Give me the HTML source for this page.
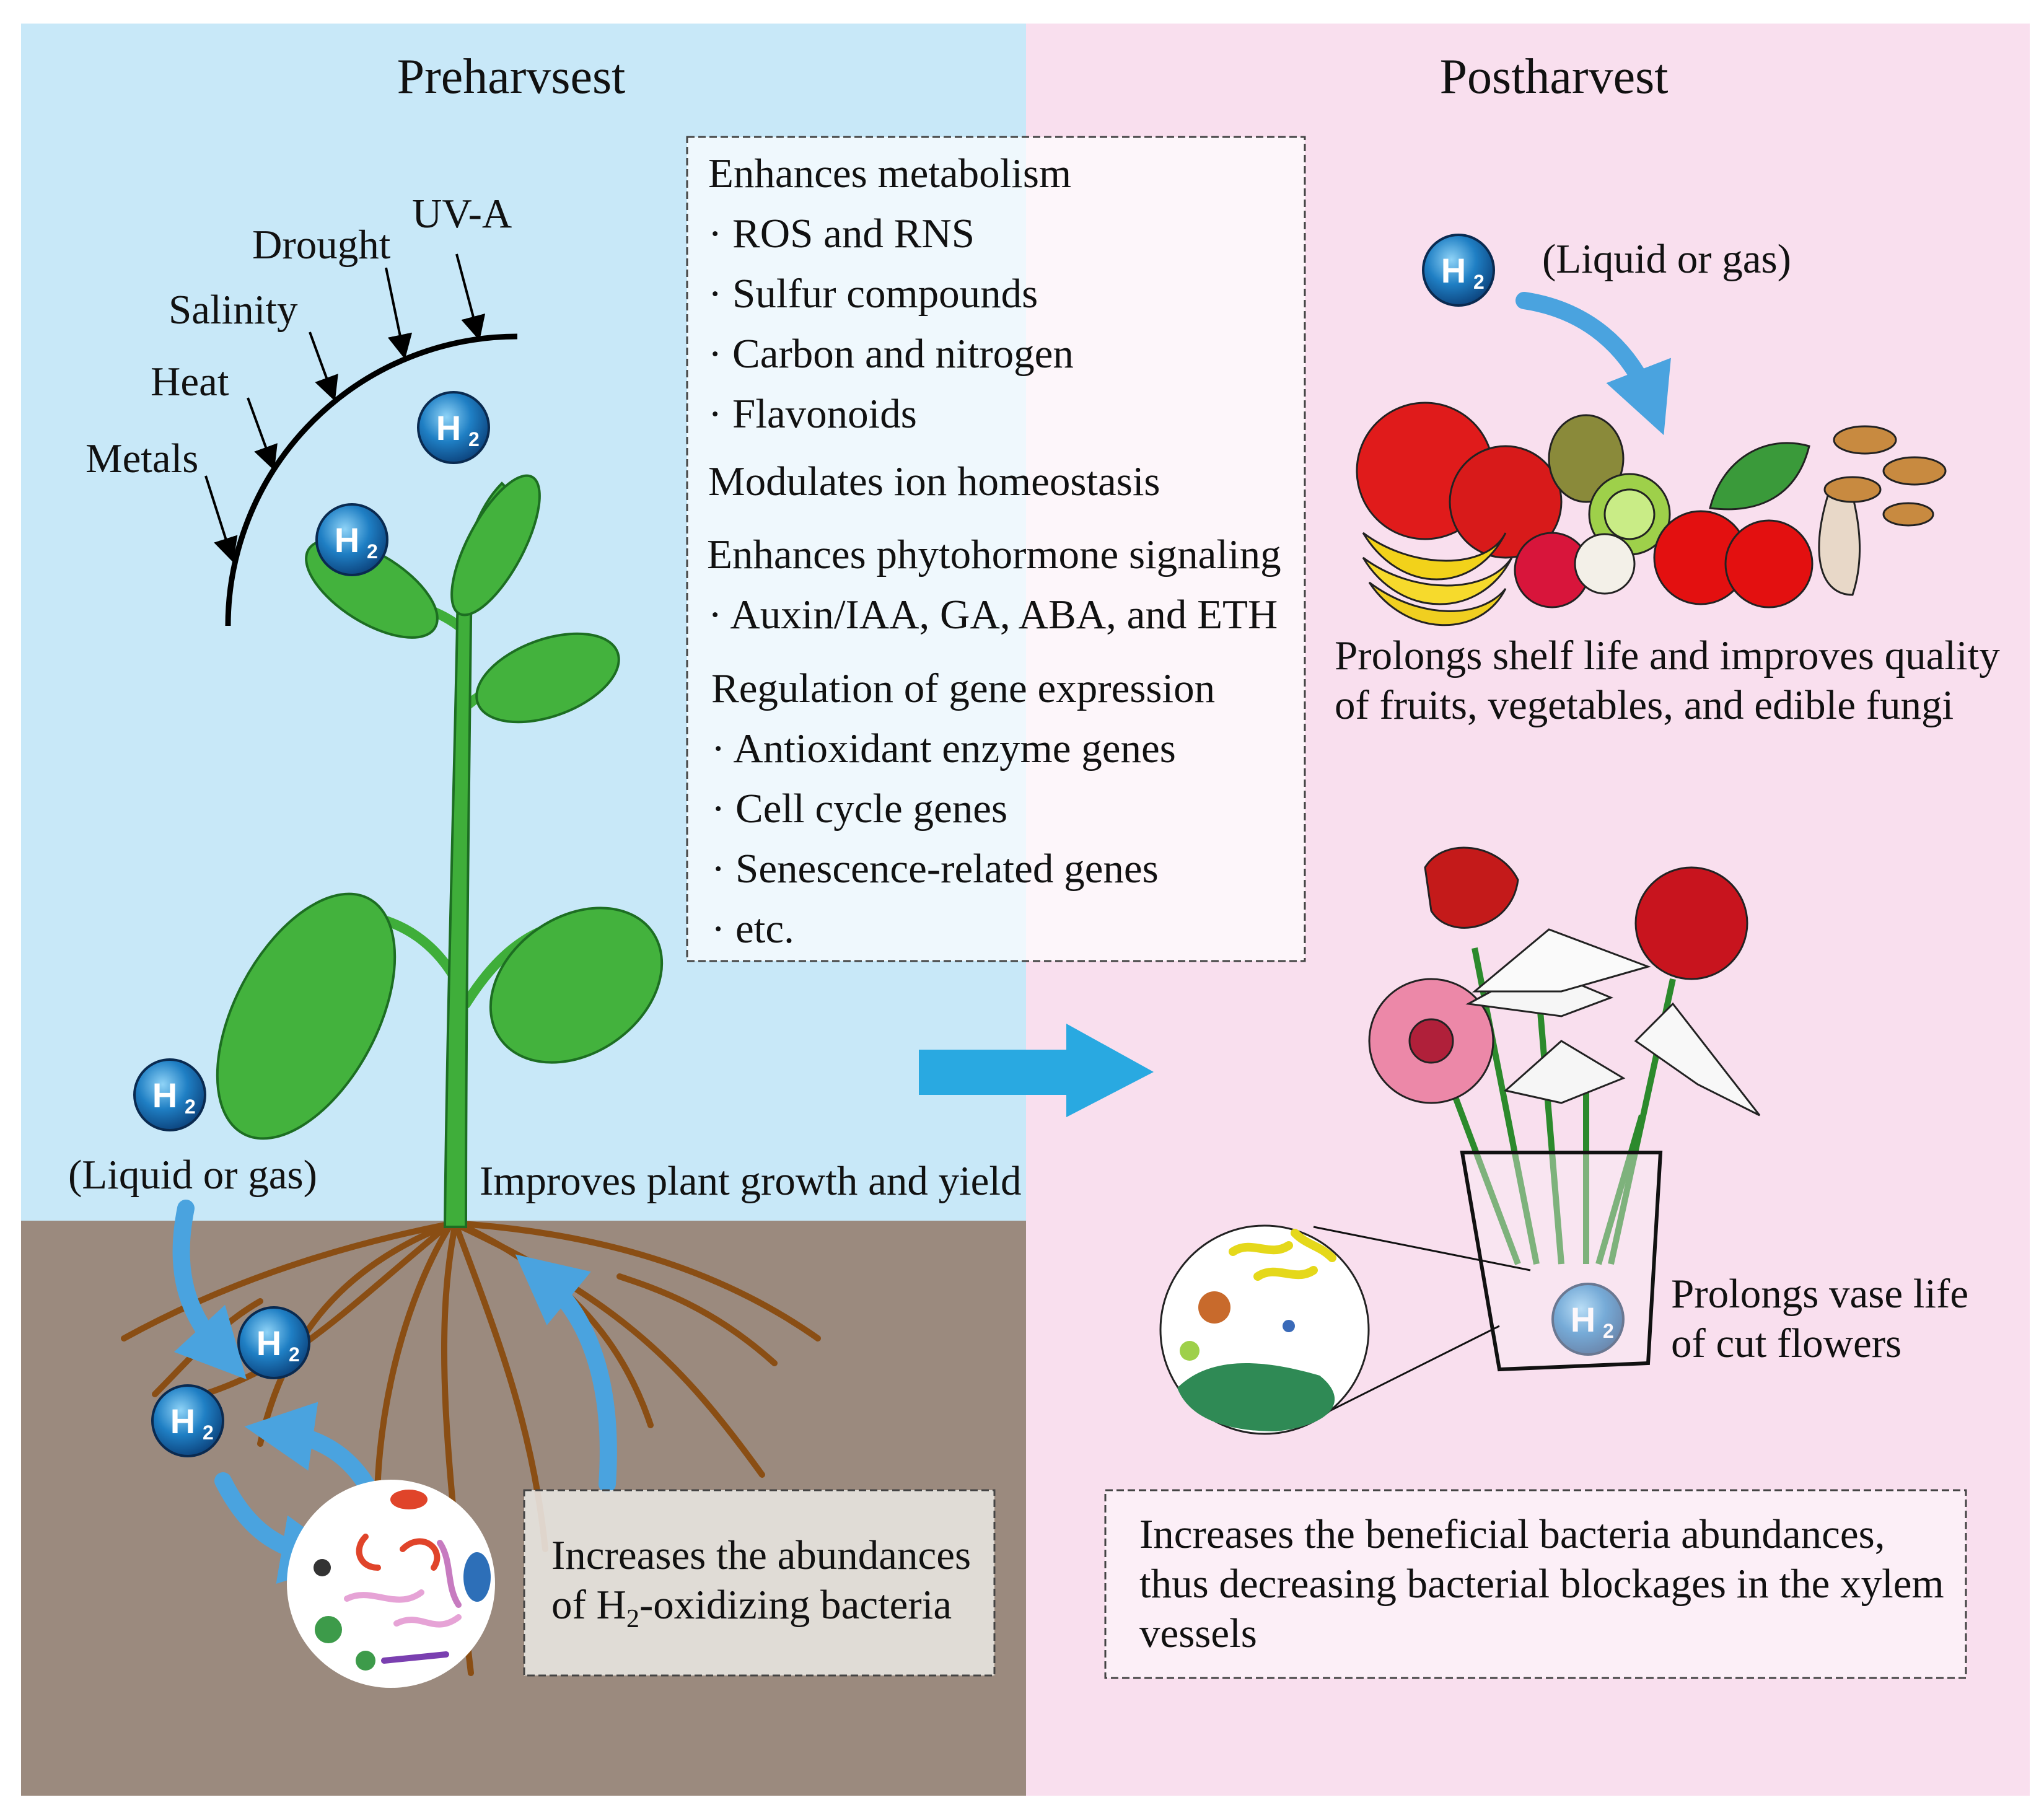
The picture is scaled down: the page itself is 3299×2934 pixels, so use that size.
<!DOCTYPE html>
<html><head><meta charset="utf-8"><style>
html,body{margin:0;padding:0;background:#fff}
svg{display:block}
text{font-family:"Liberation Serif",serif;fill:#111}
</style></head><body>
<svg width="3299" height="2934" viewBox="0 0 3299 2934" xmlns="http://www.w3.org/2000/svg">
<defs>
<radialGradient id="h2" cx="0.4" cy="0.35" r="0.7">
<stop offset="0" stop-color="#8fd3f7"/><stop offset="0.5" stop-color="#1f7fc4"/><stop offset="1" stop-color="#0b3f78"/>
</radialGradient>
<marker id="ah" markerWidth="10" markerHeight="10" refX="8" refY="5" orient="auto" markerUnits="strokeWidth"><path d="M0,0 L10,5 L0,10 z" fill="#000"/></marker>
<marker id="bh" markerWidth="4" markerHeight="4" refX="2" refY="2" orient="auto" markerUnits="strokeWidth"><path d="M0,0 L4,2 L0,4 z" fill="#4aa3df"/></marker>
<g id="H2"><circle r="57" fill="url(#h2)" stroke="#0a2a50" stroke-width="4"/><text x="-8" y="20" font-weight="bold" font-size="56" text-anchor="middle" style="fill:#fff;font-family:'Liberation Sans',sans-serif">H</text><text x="24" y="30" font-weight="bold" font-size="32" style="fill:#fff;font-family:'Liberation Sans',sans-serif">2</text></g>
</defs>
<rect x="34" y="38" width="1622" height="1932" fill="#c8e8f8"/>
<rect x="34" y="1970" width="1622" height="928" fill="#9b8a7e"/>
<rect x="1656" y="38" width="1620" height="2860" fill="#f9dfee"/>

<text x="825" y="150" font-size="80" text-anchor="middle">Preharvsest</text>
<text x="2508" y="150" font-size="80" text-anchor="middle">Postharvest</text>

<rect x="1109" y="221" width="997" height="1330" fill="#ffffff" fill-opacity="0.7" stroke="#444" stroke-width="3" stroke-dasharray="12,6"/>
<g font-size="67">
<text x="1143" y="302">Enhances metabolism</text>
<text x="1143" y="399">· ROS and RNS</text>
<text x="1143" y="496">· Sulfur compounds</text>
<text x="1143" y="593">· Carbon and nitrogen</text>
<text x="1143" y="690">· Flavonoids</text>
<text x="1143" y="799">Modulates ion homeostasis</text>
<text x="1141" y="917">Enhances phytohormone signaling</text>
<text x="1143" y="1014">· Auxin/IAA, GA, ABA, and ETH</text>
<text x="1148" y="1133">Regulation of gene expression</text>
<text x="1148" y="1230">· Antioxidant enzyme genes</text>
<text x="1148" y="1327">· Cell cycle genes</text>
<text x="1148" y="1424">· Senescence-related genes</text>
<text x="1148" y="1521">· etc.</text>
</g>

<path d="M368,1010 A467,467 0 0 1 835,543" fill="none" stroke="#000" stroke-width="9"/>
<g stroke="#000" stroke-width="4" fill="none" marker-end="url(#ah)">
<line x1="332" y1="768" x2="374" y2="900"/>
<line x1="400" y1="642" x2="440" y2="752"/>
<line x1="500" y1="536" x2="538" y2="640"/>
<line x1="623" y1="432" x2="652" y2="572"/>
<line x1="737" y1="410" x2="772" y2="542"/>
</g>
<g font-size="67">
<text x="138" y="762">Metals</text>
<text x="243" y="638">Heat</text>
<text x="272" y="522">Salinity</text>
<text x="407" y="417">Drought</text>
<text x="665" y="367">UV-A</text>
</g>

<g stroke="#8a4e14" stroke-width="10" fill="none" stroke-linecap="round">
<path d="M728,1975 C600,2000 400,2050 200,2160"/>
<path d="M728,1975 C560,2040 460,2150 420,2330"/>
<path d="M728,1975 C650,2100 600,2300 610,2480"/>
<path d="M735,1975 C700,2150 720,2350 760,2700"/>
<path d="M735,1975 C800,2150 860,2300 880,2500"/>
<path d="M740,1975 C900,2050 1000,2150 1050,2300"/>
<path d="M745,1975 C950,1990 1150,2040 1320,2160"/>
<path d="M745,1980 C1000,2100 1100,2200 1230,2380"/>
<path d="M720,1980 C550,2120 480,2200 330,2250"/>
<path d="M420,2100 C350,2140 300,2200 250,2250"/>
<path d="M1000,2060 C1060,2080 1150,2110 1250,2200"/>
</g>

<g stroke="#1d6e22" stroke-width="4">
<g fill="none" stroke="#3fae3a" stroke-width="16" stroke-linecap="round">
<path d="M735,1580 C700,1520 650,1490 600,1480"/>
<path d="M752,1620 C790,1560 830,1520 880,1500"/>
<path d="M740,1010 C700,980 650,970 610,968"/>
<path d="M752,1140 C800,1100 840,1090 880,1090"/>
</g>
<path d="M718,1980 C722,1600 735,1200 738,1000 C740,900 770,820 810,780 L822,792 C790,830 760,900 760,1000 C758,1200 752,1600 752,1980 Z" fill="#3fae3a"/>
<g fill="#43b23d">
<ellipse cx="800" cy="880" rx="125" ry="45" transform="rotate(-62 800 880)"/>
<ellipse cx="600" cy="950" rx="120" ry="55" transform="rotate(32 600 950)"/>
<ellipse cx="884" cy="1094" rx="120" ry="62" transform="rotate(-20 884 1094)"/>
<ellipse cx="494" cy="1640" rx="115" ry="215" transform="rotate(28 494 1640)"/>
<ellipse cx="930" cy="1590" rx="150" ry="110" transform="rotate(-35 930 1590)"/>
</g>
</g>

<use href="#H2" x="732" y="690"/>
<use href="#H2" x="568" y="871"/>
<use href="#H2" x="274" y="1767"/>
<use href="#H2" x="442" y="2167"/>
<use href="#H2" x="303" y="2293"/>
<use href="#H2" x="2354" y="436"/>
<use href="#H2" x="2563" y="2129"/>

<g stroke="#4aa3df" stroke-width="28" fill="none" stroke-linecap="round">
<path d="M300,1950 C280,2050 300,2120 360,2185" marker-end="url(#bh)"/>
<path d="M360,2390 C400,2470 450,2500 510,2510" marker-end="url(#bh)"/>
<path d="M605,2420 C570,2350 520,2320 450,2310" marker-end="url(#bh)"/>
<path d="M980,2395 C990,2250 960,2130 875,2060" marker-end="url(#bh)"/>
<path d="M2460,485 C2560,500 2630,560 2665,650" marker-end="url(#bh)"/>
</g>
<path d="M1483,1694 L1721,1694 L1721,1652 L1862,1730 L1721,1803 L1721,1767 L1483,1767 Z" fill="#29a9e1"/>

<g font-size="67">
<text x="110" y="1918">(Liquid or gas)</text>
<text x="774" y="1928">Improves plant growth and yield</text>
</g>

<circle cx="631" cy="2556" r="168" fill="#fff"/>
<g stroke-width="10" fill="none" stroke-linecap="round">
<path d="M590,2480 C570,2500 580,2530 610,2530" stroke="#e0442a"/>
<path d="M650,2500 C680,2470 720,2500 700,2530" stroke="#e0442a"/>
<path d="M710,2490 C730,2520 720,2560 740,2590" stroke="#c77bc0"/>
<path d="M560,2580 C600,2560 640,2600 680,2570" stroke="#e6a3d6"/>
<path d="M640,2620 C680,2600 700,2640 740,2610" stroke="#e6a3d6"/>
<path d="M620,2680 L720,2670" stroke="#7a3fb0"/>
</g>
<ellipse cx="660" cy="2420" rx="30" ry="16" fill="#e0442a"/>
<ellipse cx="770" cy="2545" rx="22" ry="40" fill="#2d6fb8"/>
<circle cx="530" cy="2630" r="22" fill="#3d9b4a"/>
<circle cx="590" cy="2680" r="16" fill="#3d9b4a"/>
<circle cx="520" cy="2530" r="14" fill="#333"/>

<rect x="846" y="2405" width="759" height="299" fill="#e8e4e0" fill-opacity="0.9" stroke="#444" stroke-width="3" stroke-dasharray="12,6"/>
<g font-size="67">
<text x="890" y="2532">Increases the abundances</text>
<text x="890" y="2612">of H<tspan font-size="42" dy="14">2</tspan><tspan dy="-14">-oxidizing bacteria</tspan></text>
</g>

<g stroke="#222" stroke-width="3">
<circle cx="2300" cy="760" r="110" fill="#e01b1b"/>
<circle cx="2430" cy="810" r="90" fill="#d81a1a"/>
<ellipse cx="2560" cy="740" rx="60" ry="70" fill="#8a8a3a"/>
<circle cx="2630" cy="830" r="65" fill="#9ed04a"/>
<circle cx="2630" cy="830" r="40" fill="#c9ec86"/>
<path d="M2200,860 C2260,960 2380,960 2430,860 C2400,920 2280,920 2200,860 Z" fill="#f2d21a"/>
<path d="M2200,900 C2260,1000 2390,1000 2440,900 C2400,960 2280,960 2200,900 Z" fill="#f6da2c"/>
<path d="M2210,940 C2270,1030 2390,1030 2430,950 C2390,1000 2290,1000 2210,940 Z" fill="#f0cf20"/>
<circle cx="2505" cy="920" r="60" fill="#d8153b"/>
<circle cx="2590" cy="910" r="48" fill="#f3f0e8"/>
<circle cx="2745" cy="900" r="75" fill="#e31010"/>
<circle cx="2855" cy="910" r="70" fill="#e31010"/>
<path d="M2760,820 C2780,740 2850,700 2920,720 C2900,800 2840,830 2760,820 Z" fill="#3a9a3a"/>
<path d="M2950,800 C2920,900 2940,960 2990,960 C3010,900 3000,840 2990,800 Z" fill="#e8d8c8"/>
<ellipse cx="3010" cy="710" rx="50" ry="22" fill="#c88a40"/>
<ellipse cx="3090" cy="760" rx="50" ry="22" fill="#c88a40"/>
<ellipse cx="2990" cy="790" rx="45" ry="20" fill="#c88a40"/>
<ellipse cx="3080" cy="830" rx="40" ry="18" fill="#c88a40"/>
</g>
<g font-size="67">
<text x="2489" y="440">(Liquid or gas)</text>
<text x="2154" y="1080">Prolongs shelf life and improves quality</text>
<text x="2154" y="1160">of fruits, vegetables, and edible fungi</text>
</g>

<g stroke="#2c8a2c" stroke-width="10" fill="none">
<path d="M2380,1530 L2480,2040"/><path d="M2480,1560 L2520,2040"/>
<path d="M2700,1580 L2600,2040"/><path d="M2330,1720 L2450,2040"/>
<path d="M2560,1740 L2560,2040"/><path d="M2650,1800 L2580,2040"/>
</g>
<g stroke="#222" stroke-width="3">
<path d="M2300,1400 C2330,1350 2420,1360 2450,1420 C2440,1500 2340,1520 2310,1470 Z" fill="#c41a1a"/>
<circle cx="2730" cy="1490" r="90" fill="#c8141e"/>
<circle cx="2310" cy="1680" r="100" fill="#ec88a8"/>
<circle cx="2310" cy="1680" r="35" fill="#b0203a"/>
<path d="M2370,1620 L2480,1560 L2600,1610 L2520,1640 Z" fill="#f6f6f6"/>
<path d="M2380,1600 L2500,1500 L2660,1560 L2520,1600 Z" fill="#fafafa"/>
<path d="M2430,1760 L2520,1680 L2620,1740 L2520,1780 Z" fill="#f6f6f6"/>
<path d="M2640,1680 L2700,1620 L2840,1800 L2740,1750 Z" fill="#f8f8f8"/>
</g>
<path d="M2360,1860 L2680,1860 L2660,2200 L2420,2210 Z" fill="#f9eef4" fill-opacity="0.4" stroke="#111" stroke-width="6"/>
<line x1="2120" y1="1980" x2="2470" y2="2050" stroke="#111" stroke-width="3"/>
<line x1="2100" y1="2300" x2="2420" y2="2140" stroke="#111" stroke-width="3"/>
<circle cx="2041" cy="2146" r="168" fill="#fff" stroke="#222" stroke-width="3"/>
<g stroke="#e5d81a" stroke-width="14" fill="none" stroke-linecap="round">
<path d="M1990,2020 C2020,2000 2050,2030 2080,2010"/><path d="M2030,2060 C2060,2040 2090,2070 2120,2050"/><path d="M2090,1990 C2110,2010 2130,2010 2150,2030"/>
</g>
<path d="M1900,2240 C1960,2180 2060,2200 2130,2220 C2180,2260 2150,2300 2060,2310 C1980,2310 1920,2290 1900,2240 Z" fill="#2f8a55"/>
<circle cx="1960" cy="2110" r="26" fill="#c86a2c"/>
<circle cx="1920" cy="2180" r="16" fill="#9ed04a"/>
<circle cx="2080" cy="2140" r="10" fill="#3a6ab8"/>
<g font-size="67">
<text x="2697" y="2110">Prolongs vase life</text>
<text x="2697" y="2190">of cut flowers</text>
</g>
<rect x="1784" y="2405" width="1389" height="303" fill="#ffffff" fill-opacity="0.5" stroke="#444" stroke-width="3" stroke-dasharray="12,6"/>
<g font-size="67">
<text x="1839" y="2498">Increases the beneficial bacteria abundances,</text>
<text x="1839" y="2578">thus decreasing bacterial blockages in the xylem</text>
<text x="1839" y="2658">vessels</text>
</g>
</svg>
</body></html>
